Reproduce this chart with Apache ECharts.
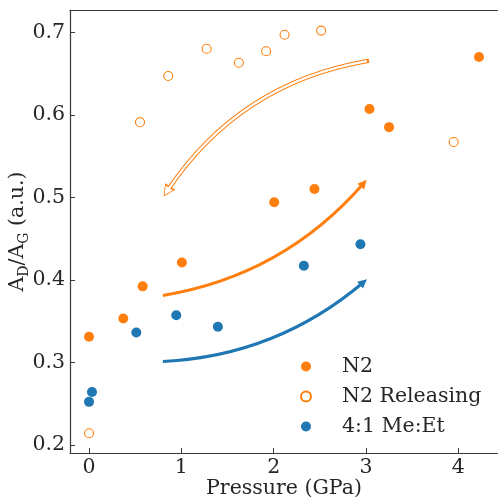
<!DOCTYPE html>
<html>
<head>
<meta charset="utf-8">
<script src="https://cdn.jsdelivr.net/npm/echarts@6/dist/echarts.min.js"></script>
<style>
html,body{margin:0;padding:0;background:#fff;}
#chart{width:498px;height:499px;}
</style>
</head>
<body>
<div id="chart"></div>
<script>
// ---- data ----
var n2X = [0.0, 0.371, 0.581, 1.006, 2.006, 2.442, 3.038, 3.250, 4.224];
var n2Y = [0.331, 0.353, 0.392, 0.421, 0.494, 0.510, 0.607, 0.585, 0.670];

var relX = [0.0, 0.552, 0.858, 1.274, 1.623, 1.919, 2.118, 2.514, 3.950];
var relY = [0.214, 0.591, 0.647, 0.680, 0.663, 0.677, 0.697, 0.702, 0.567];

var meX = [0.0, 0.032, 0.512, 0.945, 1.396, 2.327, 2.940];
var meY = [0.252, 0.264, 0.336, 0.357, 0.343, 0.417, 0.443];

// annotation arrows: [start, end] in data units
var arrowN2 = [[0.80, 0.381], [2.975, 0.517]];
var arrowMe = [[0.80, 0.301], [2.973, 0.397]];
var arrowRel = [[3.01, 0.665], [0.843, 0.507]];

var xTicks = [0, 1, 2, 3, 4];
var xTickLabels = ['0', '1', '2', '3', '4'];
var yTicks = [0.2, 0.3, 0.4, 0.5, 0.6, 0.7];
var yTickLabels = ['0.2', '0.3', '0.4', '0.5', '0.6', '0.7'];

var seriesNames = ['N2', 'N2 Releasing', '4:1 Me:Et'];

// ---- style ----
var ORANGE = '#ff7f0e';
var BLUE = '#1f77b4';
var TXT = '#262626';
var AX = '#3a3a3a';
var FONT = 'DejaVu Serif';
var FS = 20.5;

function pairs(xs, ys) { return xs.map(function (x, i) { return [x, ys[i]]; }); }

var chart = echarts.init(document.getElementById('chart'), null, {renderer: 'canvas'});

var option = {
  animation: false,
  backgroundColor: '#fff',
  grid: {left: 70, top: 10, right: 0, bottom: 46, containLabel: false, outerBoundsMode: 'none'},
  legend: {
    orient: 'vertical',
    left: 300, top: 356,
    padding: 0,
    itemWidth: 10, itemHeight: 10, itemGap: 9,
    data: seriesNames,
    textStyle: {fontFamily: FONT, fontSize: FS, color: TXT, padding: [0, 0, 0, 26]}
  },
  xAxis: [{
    type: 'value', min: -0.206, max: 4.43,
    axisLine: {show: true, onZero: false, lineStyle: {color: AX, width: 1.2}},
    axisTick: {show: true, inside: true, length: 5, customValues: xTicks, lineStyle: {color: AX, width: 1}},
    axisLabel: {customValues: xTicks, margin: 4, fontFamily: FONT, fontSize: FS, color: TXT,
      formatter: function (v) { var i = xTicks.indexOf(v); return i >= 0 ? xTickLabels[i] : ''; }},
    splitLine: {show: false},
    name: 'Pressure (GPa)', nameLocation: 'middle', nameGap: 25, nameMoveOverlap: false,
    nameTextStyle: {fontFamily: FONT, fontSize: FS, color: TXT}
  }, {
    type: 'value', position: 'top', min: -0.206, max: 4.43,
    axisLine: {show: true, onZero: false, lineStyle: {color: AX, width: 1.2}},
    axisTick: {show: false}, axisLabel: {show: false}, splitLine: {show: false}
  }],
  yAxis: [{
    type: 'value', min: 0.19, max: 0.727,
    axisLine: {show: true, onZero: false, lineStyle: {color: AX, width: 1.2}},
    axisTick: {show: true, inside: true, length: 5, customValues: yTicks, lineStyle: {color: AX, width: 1}},
    axisLabel: {customValues: yTicks, margin: 5, fontFamily: FONT, fontSize: FS, color: TXT,
      formatter: function (v) {
        for (var i = 0; i < yTicks.length; i++) { if (Math.abs(yTicks[i] - v) < 1e-9) return yTickLabels[i]; }
        return '';
      }},
    splitLine: {show: false},
    name: '{m|A}{s|D}{m|/A}{s|G}{m| (a.u.)}',
    nameLocation: 'middle', nameGap: 40, nameRotate: 90, nameMoveOverlap: false,
    nameTextStyle: {
      fontFamily: FONT, fontSize: FS, color: TXT,
      rich: {
        m: {fontFamily: FONT, fontSize: FS, color: TXT, lineHeight: 23, verticalAlign: 'top'},
        s: {fontFamily: FONT, fontSize: 14, color: TXT, lineHeight: 14, padding: [10, 0, 0, 0], verticalAlign: 'top'}
      }
    }
  }],
  series: [
    {
      type: 'lines', coordinateSystem: 'cartesian2d', polyline: false, silent: true, z: 1,
      symbol: ['none', 'triangle'], symbolSize: 9,
      lineStyle: {color: ORANGE, width: 3, curveness: -0.18, opacity: 1},
      data: [{coords: arrowN2}]
    },
    {
      type: 'lines', coordinateSystem: 'cartesian2d', polyline: false, silent: true, z: 1,
      symbol: ['none', 'triangle'], symbolSize: 9,
      lineStyle: {color: BLUE, width: 3, curveness: -0.17, opacity: 1},
      data: [{coords: arrowMe}]
    },
    {
      type: 'lines', coordinateSystem: 'cartesian2d', polyline: false, silent: true, z: 1,
      symbol: ['none', 'triangle'], symbolSize: 12,
      lineStyle: {color: ORANGE, width: 4.2, curveness: -0.215, opacity: 1, cap: 'square'},
      data: [{coords: arrowRel}]
    },
    {
      type: 'lines', coordinateSystem: 'cartesian2d', polyline: false, silent: true, z: 2,
      symbol: ['none', 'triangle'], symbolSize: 8.5,
      lineStyle: {color: '#ffffff', width: 2.2, curveness: -0.215, opacity: 1, cap: 'butt'},
      data: [{coords: arrowRel}]
    },
    {
      name: seriesNames[0], type: 'scatter', symbol: 'circle', symbolSize: 10, z: 5,
      itemStyle: {color: ORANGE, opacity: 1},
      data: pairs(n2X, n2Y)
    },
    {
      name: seriesNames[1], type: 'scatter', symbol: 'circle', symbolSize: 9, z: 5,
      itemStyle: {color: '#ffffff', borderColor: ORANGE, borderWidth: 1.1, opacity: 1},
      data: pairs(relX, relY)
    },
    {
      name: seriesNames[2], type: 'scatter', symbol: 'circle', symbolSize: 10, z: 5,
      itemStyle: {color: BLUE, opacity: 1},
      data: pairs(meX, meY)
    }
  ]
};
chart.setOption(option);
</script>
</body>
</html>
